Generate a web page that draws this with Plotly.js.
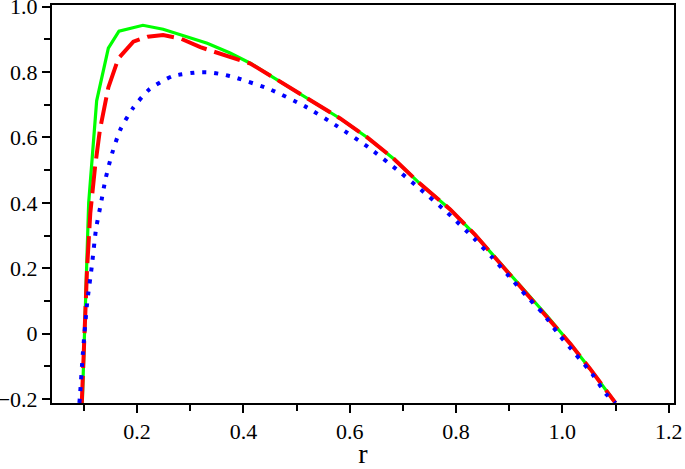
<!DOCTYPE html>
<html>
<head>
<meta charset="utf-8">
<script src="https://cdn.plot.ly/plotly-3.0.1.min.js"></script>
<style>
html,body{margin:0;padding:0;background:#fff;}
.main-svg text{font-family:"Liberation Serif" !important;}
</style>
</head>
<body>
<div id="c" style="width:685px;height:469px"></div>
<script>
// Green solid curve
const greenR = [0.097, 0.101, 0.105, 0.109, 0.124, 0.146, 0.166, 0.211, 0.249, 0.290, 0.332, 0.375, 0.413, 0.456, 0.526, 0.582, 0.633, 0.682, 0.732, 0.789, 0.836, 0.883, 0.926, 0.971, 1.015, 1.052, 1.100];
const greenY = [-0.212, 0.0, 0.2, 0.40, 0.712, 0.873, 0.925, 0.943, 0.931, 0.910, 0.888, 0.858, 0.827, 0.784, 0.714, 0.658, 0.600, 0.536, 0.459, 0.380, 0.302, 0.215, 0.138, 0.055, -0.031, -0.107, -0.212];
// Red dashed curve
const redR = [0.096, 0.101, 0.106, 0.112, 0.121, 0.130, 0.146, 0.165, 0.193, 0.220, 0.249, 0.281, 0.319, 0.394, 0.413, 0.456, 0.526, 0.582, 0.633, 0.682, 0.732, 0.789, 0.836, 0.883, 0.926, 0.971, 1.015, 1.052, 1.100];
const redY = [-0.212, 0.0, 0.2, 0.368, 0.51, 0.622, 0.753, 0.842, 0.893, 0.908, 0.913, 0.903, 0.876, 0.836, 0.826, 0.784, 0.714, 0.658, 0.600, 0.536, 0.459, 0.380, 0.302, 0.215, 0.138, 0.055, -0.031, -0.107, -0.212];
// Blue dotted curve
const blueR = [0.0915, 0.093, 0.098, 0.106, 0.115, 0.123, 0.132, 0.141, 0.153, 0.168, 0.192, 0.223, 0.266, 0.313, 0.336, 0.360, 0.383, 0.450, 0.516, 0.577, 0.635, 0.693, 0.729, 0.783, 0.834, 0.868, 0.900, 0.932, 0.964, 0.992, 1.024, 1.056, 1.082, 1.100];
const blueY = [-0.212, -0.181, -0.061, 0.092, 0.208, 0.322, 0.398, 0.475, 0.551, 0.622, 0.689, 0.747, 0.787, 0.799, 0.799, 0.793, 0.784, 0.747, 0.695, 0.634, 0.570, 0.496, 0.447, 0.371, 0.291, 0.233, 0.175, 0.116, 0.061, 0.0, -0.061, -0.123, -0.184, -0.212];

const xTickVals = [0.2, 0.4, 0.6, 0.8, 1.0, 1.2];
const xTickText = ["0.2", "0.4", "0.6", "0.8", "1.0", "1.2"];
const yTickVals = [-0.2, 0, 0.2, 0.4, 0.6, 0.8, 1.0];
const yTickText = ["\u22120.2", "0", "0.2", "0.4", "0.6", "0.8", "1.0"];

const traces = [
  {x: greenR, y: greenY, mode: "lines", line: {color: "#00ff00", width: 3.2}},
  {x: redR, y: redY, mode: "lines", line: {color: "#ff0000", width: 4, dash: "27px,8px"}},
  {x: blueR, y: blueY, mode: "lines", line: {color: "#0000ff", width: 4, dash: "4px,8px", shape: "spline", smoothing: 0.6}}
];

const layout = {
  width: 685, height: 469,
  margin: {l: 52, r: 11, t: 5, b: 66},
  showlegend: false,
  font: {family: "Liberation Serif", size: 22, color: "#000"},
  xaxis: {
    range: [0.04, 1.21], showgrid: false, zeroline: false,
    showline: true, linecolor: "#000", linewidth: 2, mirror: true,
    ticks: "outside", ticklen: 8, tickwidth: 2, tickcolor: "#000",
    tickvals: xTickVals, ticktext: xTickText,
    ticklabeloverflow: "allow",
    minor: {tickvals: [0.1, 0.3, 0.5, 0.7, 0.9, 1.1], ticks: "outside", ticklen: 6, tickwidth: 2, tickcolor: "#000", showgrid: false},
    title: {text: "r", font: {size: 28}, standoff: 19}
  },
  yaxis: {
    range: [-0.212, 1.005], showgrid: false, zeroline: false,
    showline: true, linecolor: "#000", linewidth: 2, mirror: true,
    ticks: "outside", ticklen: 8, tickwidth: 2, tickcolor: "#000",
    tickvals: yTickVals, ticktext: yTickText,
    ticklabeloverflow: "allow",
    minor: {tickvals: [-0.1, 0.1, 0.3, 0.5, 0.7, 0.9], ticks: "outside", ticklen: 6, tickwidth: 2, tickcolor: "#000", showgrid: false}
  }
};

Plotly.newPlot("c", traces, layout, {displayModeBar: false});
</script>
</body>
</html>
